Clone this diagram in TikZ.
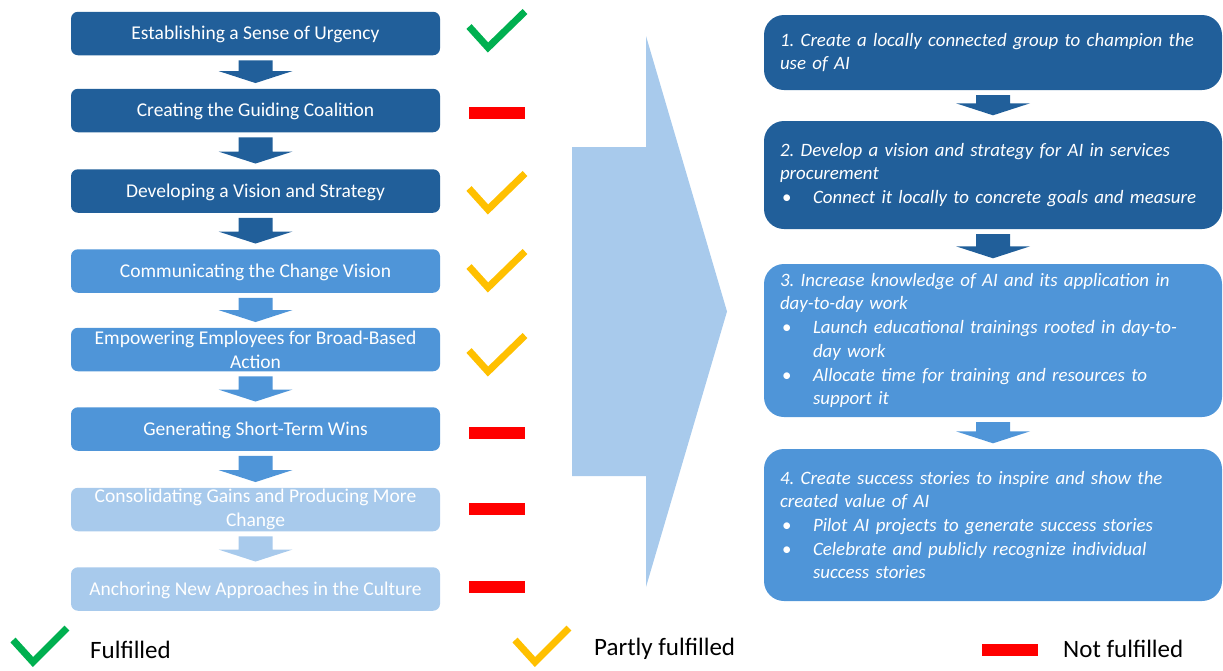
\documentclass[tikz,border=0pt]{standalone}
\usepackage{fontspec}
\setmainfont{Carlito}
\usetikzlibrary{calc}

\definecolor{navy}{HTML}{215F9A}
\definecolor{midblue}{HTML}{4F95D8}
\definecolor{paleblue}{HTML}{A8CAEC}
\definecolor{okgreen}{HTML}{00B050}
\definecolor{partyellow}{HTML}{FFC000}
\definecolor{notred}{HTML}{FF0000}

% font sizes (1 unit = 1pt)
\newcommand{\stepfont}{\fontsize{19.5}{23.7}\selectfont}
\newcommand{\actfont}{\fontsize{18.9}{23.7}\selectfont\itshape\frenchspacing}
\newcommand{\legendfont}{\fontsize{25}{28}\selectfont}

% lines in the action boxes: plain, bulleted, and bullet continuation
\newcommand{\plainline}[1]{\mbox{#1}}
\newcommand{\bulletline}[1]{\mbox{\makebox[33pt][l]{\hspace{2pt}\upshape\textbullet}#1}}
\newcommand{\contline}[1]{\mbox{\hspace*{33pt}#1}}

% block arrow from the bottom of one box to the top of the next
\newcommand{\kotterarrow}[3]{%
  \fill[#1] let \p1=(#2.south), \p2=(#3.north) in
    (\x1-17pt,\y1-5pt) -- (\x1+17pt,\y1-5pt) -- (\x1+17pt,\y2+17.5pt)
    -- (\x1+37pt,\y2+17.5pt) -- (\x1,\y2+5.5pt) -- (\x1-37pt,\y2+17.5pt)
    -- (\x1-17pt,\y2+17.5pt) -- cycle;}

\tikzset{
  stepbox/.style={rectangle, rounded corners=7, minimum width=369,
    minimum height=43.5, inner sep=0, text=white, font=\stepfont, align=center},
  oneline/.style={text height=14, text depth=2},
  actbox/.style={rectangle, rounded corners=20, minimum width=458,
    text width=426, inner xsep=16, inner ysep=0, text=white,
    font=\actfont, align=left},
  tick/.style={line width=7, line join=miter, line cap=butt},
  dashmark/.style={fill=notred},
  legendtext/.style={anchor=west, font=\legendfont, text=black, inner sep=0},
}

\begin{document}
\begin{tikzpicture}[x=1pt, y=-1pt]
\useasboundingbox (0,0) rectangle (1223,670);

% Kotter's eight steps
\node[stepbox, oneline, fill=navy]     (s1) at (255.5,33.5) {Establishing a Sense of Urgency};
\node[stepbox, oneline, fill=navy]     (s2) at (255.5,110.5) {Creating the Guiding Coalition};
\node[stepbox, oneline, fill=navy]     (s3) at (255.5,191) {Developing a Vision and Strategy};
\node[stepbox, oneline, fill=midblue]  (s4) at (255.5,271) {Communicating the Change Vision};
\node[stepbox, fill=midblue]  (s5) at (255.5,349.5) {Empowering Employees for Broad-Based\\Action};
\node[stepbox, oneline, fill=midblue]  (s6) at (255.5,429) {Generating Short-Term Wins};
\node[stepbox, fill=paleblue] (s7) at (255.5,509.5) {Consolidating Gains and Producing More\\Change};
\node[stepbox, oneline, fill=paleblue] (s8) at (255.5,589) {Anchoring New Approaches in the Culture};

\kotterarrow{navy}{s1}{s2}
\kotterarrow{navy}{s2}{s3}
\kotterarrow{navy}{s3}{s4}
\kotterarrow{midblue}{s4}{s5}
\kotterarrow{midblue}{s5}{s6}
\kotterarrow{midblue}{s6}{s7}
\kotterarrow{paleblue}{s7}{s8}

% status marks
\draw[tick, okgreen]    (469,26.5) -- (488,47.5) -- (525,11.5);
\fill[dashmark] (469,106.5) rectangle (525,118.5);
\draw[tick, partyellow] (469,188.5) -- (488,209.5) -- (525,173.5);
\draw[tick, partyellow] (469,266.5) -- (488,287.5) -- (525,251.5);
\draw[tick, partyellow] (469,350.5) -- (488,371.5) -- (525,335.5);
\fill[dashmark] (469,426.5) rectangle (525,438.5);
\fill[dashmark] (469,502.5) rectangle (525,514.5);
\fill[dashmark] (469,581) rectangle (525,593);

% large transition arrow
\fill[paleblue] (572,147) -- (646,147) -- (646,36) -- (727,311.5)
  -- (646,587) -- (646,476) -- (572,476) -- cycle;

% recommended actions
\node[actbox, fill=navy, minimum height=75] (a1) at (993,52.5)
  {\plainline{1. Create a locally connected group to champion the}\\
   \plainline{use of AI}};
\node[actbox, fill=navy, minimum height=108] (a2) at (993,175)
  {\plainline{2. Develop a vision and strategy for AI in services}\\
   \plainline{procurement}\\
   \bulletline{Connect it locally to concrete goals and measure}};
\node[actbox, fill=midblue, minimum height=153] (a3) at (993,340.5)
  {\plainline{3. Increase knowledge of AI and its application in}\\
   \plainline{day-to-day work}\\
   \bulletline{Launch educational trainings rooted in day-to-}\\
   \contline{day work}\\
   \bulletline{Allocate time for training and resources to}\\
   \contline{support it}};
\node[actbox, fill=midblue, minimum height=152] (a4) at (993,525)
  {\plainline{4. Create success stories to inspire and show the}\\
   \plainline{created value of AI}\\
   \bulletline{Pilot AI projects to generate success stories}\\
   \bulletline{Celebrate and publicly recognize individual}\\
   \contline{success stories}};

\kotterarrow{navy}{a1}{a2}
\kotterarrow{navy}{a2}{a3}
\kotterarrow{midblue}{a3}{a4}

% legend
\draw[tick, okgreen]    (13,640) -- (33,662) -- (67,628);
\node[legendtext] (lg1) at (90,650) {Fulfilled};
\draw[tick, partyellow] (515,640) -- (535,662) -- (569,628);
\node[legendtext] (lg2) at (594,649) {Partly fulfilled};
\fill[dashmark] (982,644) rectangle (1038,656);
\node[legendtext] (lg3) at (1063,649) {Not fulfilled};
\end{tikzpicture}
\end{document}
